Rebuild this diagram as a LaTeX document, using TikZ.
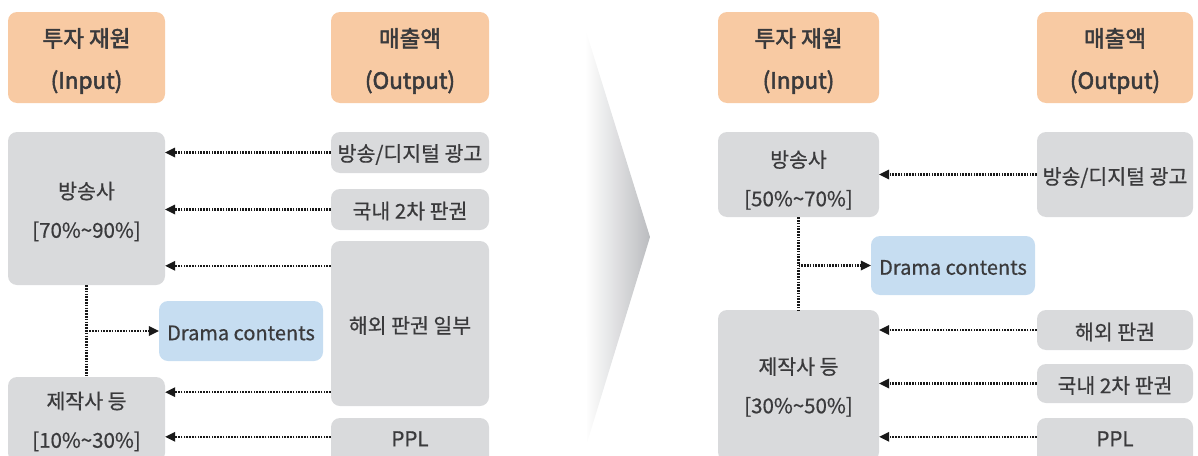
\documentclass[tikz,border=0pt]{standalone}
\usepackage{fontspec}
\setmainfont{Noto Sans CJK KR}
\newfontfamily\bodyfont{Noto Sans CJK KR}[FakeBold=0.6]
\newfontfamily\headfont{Noto Sans CJK KR}[FakeBold=2.4]
\usetikzlibrary{arrows.meta,positioning}
\definecolor{peach}{RGB}{248,202,163}
\definecolor{boxgray}{RGB}{217,218,220}
\definecolor{boxblue}{RGB}{198,221,241}
\definecolor{txt}{RGB}{58,58,60}
\definecolor{chev}{RGB}{150,152,157}
\pgfdeclarehorizontalshading{chevshade}{100bp}{color(0bp)=(white); color(25bp)=(white); color(60bp)=(chev!45!white); color(100bp)=(chev)}
\tikzset{
  base/.style={rounded corners=9pt, inner sep=0pt},
  head/.style={base, fill=peach},
  gbox/.style={base, fill=boxgray},
  bbox/.style={base, fill=boxblue},
  lh/.style={align=center, text=txt, inner sep=0pt, font=\headfont\fontsize{22.5}{42}\selectfont},
  lb/.style={align=center, text=txt, inner sep=0pt, font=\bodyfont\fontsize{20.5}{39}\selectfont},
  lc/.style={lb, font=\bodyfont\fontsize{20}{39}\selectfont},
  dots/.style={line width=2.2pt, dash pattern=on 1.6pt off 1.2pt, draw=black!90},
  arr/.style={dots, -{Triangle[length=10pt,width=10pt,line width=0pt]}},
}
\begin{document}
\begin{tikzpicture}[x=1pt,y=-1pt]
\useasboundingbox (0,0) rectangle (1198,455);
\clip (0,0) rectangle (1198,455);
% chevron
\shade[shading=chevshade] (585,28) -- (650,237) -- (587,443) -- cycle;
% ---------- left panel
\node[head, minimum width=157pt, minimum height=91pt, label={[lh, yshift=-3.5pt]center:{투자 재원\\(Input)}}] (in1) at (86.5,57.5) {};
\node[head, minimum width=158pt, minimum height=91pt, label={[lh, yshift=-3.5pt]center:{매출액\\(Output)}}] (out1) at (410,57.5) {};
\node[gbox, minimum width=157pt, minimum height=153pt, label={[lb, yshift=-3pt]center:{방송사\\{[}70\%\textasciitilde 90\%{]}}}] (bs1) at (86.5,208.5) {};
\node[gbox, minimum width=158pt, minimum height=41pt, label={[lb, yshift=-2pt]center:방송/디지털 광고}] (o1a) at (410,152.5) {};
\node[gbox, minimum width=158pt, minimum height=41pt, label={[lb, yshift=-1.5pt]center:국내 2차 판권}] (o1b) at (410,209.5) {};
\node[gbox, minimum width=158pt, minimum height=165pt, label={[lb, yshift=-2pt]center:해외 판권 일부}] (o1c) at (410,323.5) {};
\node[bbox, minimum width=164pt, minimum height=60pt, label={[lc, yshift=-2pt]center:Drama contents}] (dc1) at (241,331) {};
\node[gbox, minimum width=157pt, minimum height=85pt, label={[lb, yshift=-2pt]center:{제작사 등\\{[}10\%\textasciitilde 30\%{]}}}] (pr1) at (86.5,419.5) {};
\node[gbox, minimum width=158pt, minimum height=52pt, label={[lb, anchor=center, yshift=-21pt]north:PPL}] (o1d) at (410,444) {};
\draw[arr] (o1a.west) -- (o1a.west -| bs1.east);
\draw[arr] (o1b.west) -- (o1b.west -| bs1.east);
\draw[arr] ([yshift=-25pt]o1c.north west) -- ([yshift=-25pt]o1c.north west -| bs1.east);
\draw[arr] ([yshift=14pt]o1c.south west) -- ([yshift=14pt]o1c.south west -| pr1.east);
\draw[arr] ([yshift=-19pt]o1d.north west) -- ([yshift=-19pt]o1d.north west -| pr1.east);
\draw[dots] (bs1.south) -- (pr1.north);
\draw[arr] (bs1.south |- dc1.west) -- (dc1.west);
% ---------- right panel
\node[head, minimum width=161pt, minimum height=91pt, label={[lh, yshift=-3.5pt]center:{투자 재원\\(Input)}}] (in2) at (798.5,57.5) {};
\node[head, minimum width=156pt, minimum height=91pt, label={[lh, yshift=-3.5pt]center:{매출액\\(Output)}}] (out2) at (1115,57.5) {};
\node[gbox, minimum width=161pt, minimum height=85pt, label={[lb, yshift=-5.5pt]center:{방송사\\{[}50\%\textasciitilde 70\%{]}}}] (bs2) at (798.5,174.5) {};
\node[gbox, minimum width=156pt, minimum height=85pt, label={[lb, yshift=-3pt]center:방송/디지털 광고}] (o2a) at (1115,174.5) {};
\node[bbox, minimum width=164pt, minimum height=59pt, label={[lc, yshift=-2pt]center:Drama contents}] (dc2) at (953,265.5) {};
\node[gbox, minimum width=161pt, minimum height=151pt, label={[lb, yshift=-1.5pt]center:{제작사 등\\{[}30\%\textasciitilde 50\%{]}}}] (pr2) at (798.5,385.5) {};
\node[gbox, minimum width=156pt, minimum height=40pt, label={[lb, yshift=-2pt]center:해외 판권}] (o2b) at (1115,330) {};
\node[gbox, minimum width=156pt, minimum height=39pt, label={[lb, yshift=-2pt]center:국내 2차 판권}] (o2c) at (1115,383.5) {};
\node[gbox, minimum width=156pt, minimum height=52pt, label={[lb, anchor=center, yshift=-21pt]north:PPL}] (o2d) at (1115,444) {};
\draw[arr] (o2a.west) -- (o2a.west -| bs2.east);
\draw[arr] (o2b.west) -- (o2b.west -| pr2.east);
\draw[arr] (o2c.west) -- (o2c.west -| pr2.east);
\draw[arr] ([yshift=-19pt]o2d.north west) -- ([yshift=-19pt]o2d.north west -| pr2.east);
\draw[dots] (bs2.south) -- (pr2.north);
\draw[arr] (bs2.south |- dc2.west) -- (dc2.west);
\end{tikzpicture}
\end{document}
